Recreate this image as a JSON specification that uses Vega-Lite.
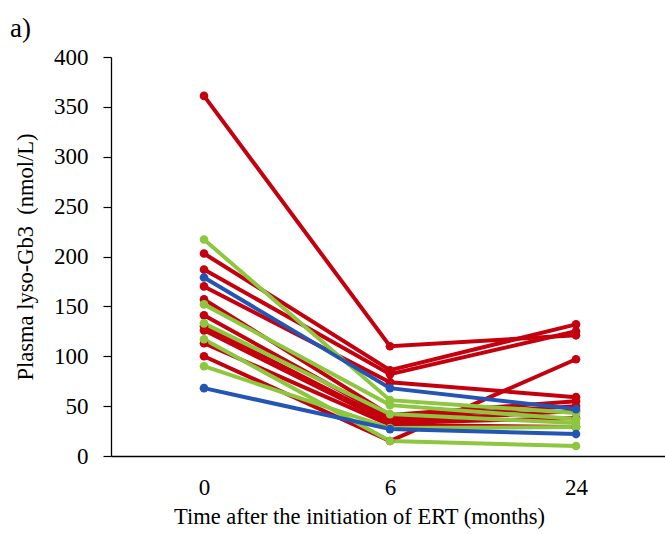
{
  "$schema": "https://vega.github.io/schema/vega-lite/v6.json",
  "autosize": {"type": "none"},
  "width": 558,
  "height": 399,
  "padding": {"left": 111, "top": 57, "right": 0, "bottom": 78},
  "background": "white",
  "config": {"view": {"stroke": null}, "font": "Times New Roman, Liberation Serif, serif",
    "axis": {"labelFont": "Times New Roman, Liberation Serif, serif", "titleFont": "Times New Roman, Liberation Serif, serif"},
    "title": {"font": "Times New Roman, Liberation Serif, serif"}},
  "title": {"text": "a)", "anchor": "start", "frame": "group", "dx": -101, "dy": 10, "offset": 13, "fontSize": 27, "fontWeight": "normal", "color": "black"},
  "data": {"values": [
    {"id": "r1", "grp": "red", "t": "0", "v": 361}, {"id": "r1", "grp": "red", "t": "6", "v": 110}, {"id": "r1", "grp": "red", "t": "24", "v": 121},
    {"id": "r2", "grp": "red", "t": "0", "v": 203}, {"id": "r2", "grp": "red", "t": "6", "v": 86}, {"id": "r2", "grp": "red", "t": "24", "v": 132},
    {"id": "r3", "grp": "red", "t": "0", "v": 187}, {"id": "r3", "grp": "red", "t": "6", "v": 82}, {"id": "r3", "grp": "red", "t": "24", "v": 125},
    {"id": "r4", "grp": "red", "t": "0", "v": 170}, {"id": "r4", "grp": "red", "t": "6", "v": 74}, {"id": "r4", "grp": "red", "t": "24", "v": 59},
    {"id": "r5", "grp": "red", "t": "0", "v": 157}, {"id": "r5", "grp": "red", "t": "6", "v": 41}, {"id": "r5", "grp": "red", "t": "24", "v": 55},
    {"id": "r6", "grp": "red", "t": "0", "v": 141}, {"id": "r6", "grp": "red", "t": "6", "v": 38}, {"id": "r6", "grp": "red", "t": "24", "v": 50},
    {"id": "r7", "grp": "red", "t": "0", "v": 130}, {"id": "r7", "grp": "red", "t": "6", "v": 35}, {"id": "r7", "grp": "red", "t": "24", "v": 45},
    {"id": "r8", "grp": "red", "t": "0", "v": 126}, {"id": "r8", "grp": "red", "t": "6", "v": 33}, {"id": "r8", "grp": "red", "t": "24", "v": 38},
    {"id": "r9", "grp": "red", "t": "0", "v": 113}, {"id": "r9", "grp": "red", "t": "6", "v": 31}, {"id": "r9", "grp": "red", "t": "24", "v": 29},
    {"id": "r10", "grp": "red", "t": "0", "v": 100}, {"id": "r10", "grp": "red", "t": "6", "v": 15}, {"id": "r10", "grp": "red", "t": "24", "v": 97},
    {"id": "g1", "grp": "green", "t": "0", "v": 217}, {"id": "g1", "grp": "green", "t": "6", "v": 56}, {"id": "g1", "grp": "green", "t": "24", "v": 43},
    {"id": "g2", "grp": "green", "t": "0", "v": 152}, {"id": "g2", "grp": "green", "t": "6", "v": 51}, {"id": "g2", "grp": "green", "t": "24", "v": 37},
    {"id": "g3", "grp": "green", "t": "0", "v": 133}, {"id": "g3", "grp": "green", "t": "6", "v": 42}, {"id": "g3", "grp": "green", "t": "24", "v": 33},
    {"id": "g4", "grp": "green", "t": "0", "v": 117}, {"id": "g4", "grp": "green", "t": "6", "v": 15}, {"id": "g4", "grp": "green", "t": "24", "v": 10},
    {"id": "g5", "grp": "green", "t": "0", "v": 90}, {"id": "g5", "grp": "green", "t": "6", "v": 28}, {"id": "g5", "grp": "green", "t": "24", "v": 29},
    {"id": "b1", "grp": "blue", "t": "0", "v": 179}, {"id": "b1", "grp": "blue", "t": "6", "v": 68}, {"id": "b1", "grp": "blue", "t": "24", "v": 47},
    {"id": "b2", "grp": "blue", "t": "0", "v": 68}, {"id": "b2", "grp": "blue", "t": "6", "v": 27}, {"id": "b2", "grp": "blue", "t": "24", "v": 22}
  ]},
  "encoding": {
    "x": {"field": "t", "type": "ordinal", "sort": ["0", "6", "24"],
      "scale": {"type": "point", "padding": 0.5},
      "axis": {"title": "Time after the initiation of ERT (months)", "labelAngle": 0, "ticks": false, "labelPadding": 20,
        "labelFontSize": 23, "labelColor": "black",
        "titleFontSize": 22.5, "titleFontWeight": "normal", "titleColor": "black",
        "titleX": 248, "titleY": 67, "titleBaseline": "alphabetic",
        "domainColor": "black", "domainWidth": 1.3}},
    "y": {"field": "v", "type": "quantitative",
      "scale": {"domain": [0, 400], "nice": false},
      "axis": {"title": "Plasma lyso-Gb3\u00a0 (nmol/L)", "values": [0, 50, 100, 150, 200, 250, 300, 350, 400], "grid": false,
        "tickSize": 8, "tickColor": "black", "tickWidth": 1.2, "labelPadding": 15,
        "labelFontSize": 23, "labelColor": "black",
        "titleFontSize": 22.5, "titleFontWeight": "normal", "titleColor": "black",
        "titlePadding": 16, "domainColor": "black", "domainWidth": 1.3}},
    "color": {"field": "grp", "type": "nominal",
      "scale": {"domain": ["green", "blue", "red"], "range": ["#8DC63F", "#2356B4", "#C4000E"]},
      "legend": null},
    "detail": {"field": "id"}
  },
  "layer": [
    {"mark": {"type": "line", "strokeWidth": 4}},
    {"mark": {"type": "point", "filled": true, "opacity": 1, "size": 75}}
  ]
}
